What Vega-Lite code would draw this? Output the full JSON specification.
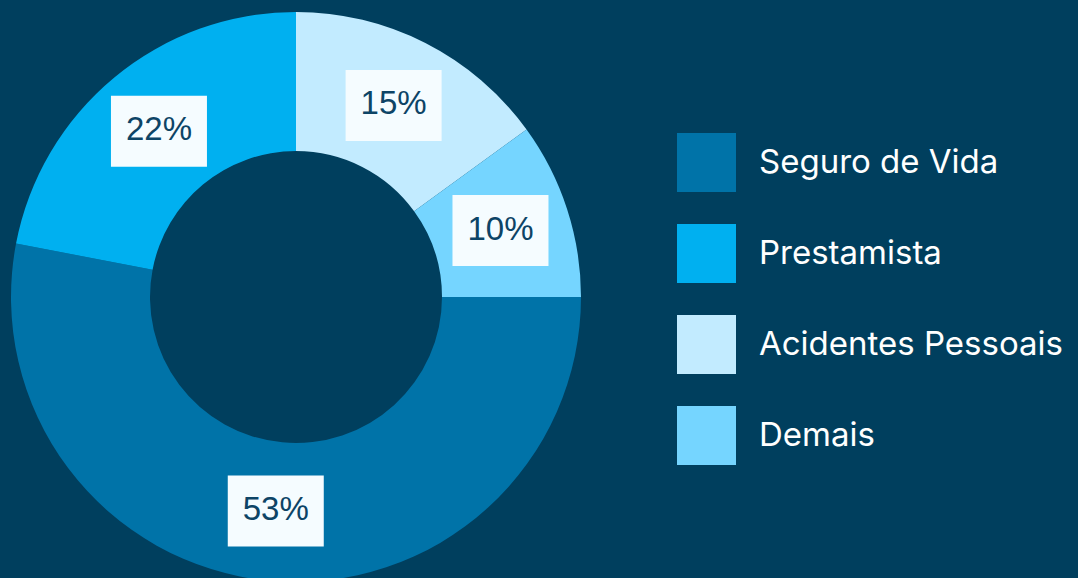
{
  "$schema": "https://vega.github.io/schema/vega-lite/v6.json",
  "width": 592,
  "height": 594,
  "autosize": {"type": "none"},
  "padding": {"left": 0, "top": 0, "right": 486, "bottom": 0},
  "background": "#003F5E",
  "config": {"view": {"stroke": null}},
  "data": {
    "values": [
      {"categoria": "Seguro de Vida", "pct": 53, "ordem": 1},
      {"categoria": "Prestamista", "pct": 22, "ordem": 2},
      {"categoria": "Acidentes Pessoais", "pct": 15, "ordem": 3},
      {"categoria": "Demais", "pct": 10, "ordem": 4}
    ]
  },
  "layer": [
    {
      "mark": {"type": "arc", "outerRadius": 285, "innerRadius": 146, "strokeWidth": 0},
      "encoding": {
        "theta": {"field": "pct", "type": "quantitative", "stack": true, "scale": {"range": [1.5707963, 7.8539816]}},
        "order": {"field": "ordem", "type": "quantitative"},
        "color": {
          "field": "categoria",
          "type": "nominal",
          "sort": ["Seguro de Vida", "Prestamista", "Acidentes Pessoais", "Demais"],
          "scale": {
            "domain": ["Seguro de Vida", "Prestamista", "Acidentes Pessoais", "Demais"],
            "range": ["#0073A8", "#00B0F0", "#C2EBFF", "#75D5FF"]
          },
          "legend": {
            "title": null,
            "orient": "none",
            "legendX": 677,
            "legendY": 133,
            "padding": 0,
            "symbolType": "square",
            "symbolSize": 3481,
            "symbolStrokeWidth": 0,
            "symbolOpacity": 1,
            "rowPadding": 32,
            "labelOffset": 23,
            "labelFont": "Inter",
            "labelFontSize": 33,
            "labelColor": "#FFFFFF",
            "labelLimit": 500
          }
        }
      }
    },
    {
      "transform": [
        {"window": [{"op": "sum", "field": "pct", "as": "cum"}], "sort": [{"field": "ordem"}], "frame": [null, 0]},
        {"calculate": "PI/2 + 2*PI*(datum.cum - datum.pct/2)/100", "as": "mid"},
        {"calculate": "215*sin(datum.mid)", "as": "lx"},
        {"calculate": "215*cos(datum.mid)", "as": "ly"},
        {"calculate": "datum.pct + '%'", "as": "rotulo"}
      ],
      "layer": [
        {
          "mark": {"type": "point", "shape": "M-1,-0.74H1V0.74H-1Z", "filled": true, "size": 9216, "fill": "#F5FCFF", "opacity": 1, "strokeWidth": 0},
          "encoding": {
            "x": {"field": "lx", "type": "quantitative", "scale": {"domain": [-296, 296], "nice": false, "zero": false}, "axis": null},
            "y": {"field": "ly", "type": "quantitative", "scale": {"domain": [-297, 297], "nice": false, "zero": false}, "axis": null}
          }
        },
        {
          "mark": {"type": "text", "font": "Liberation Sans", "fontSize": 33, "color": "#0D4466", "baseline": "middle", "align": "center", "dy": -1},
          "encoding": {
            "x": {"field": "lx", "type": "quantitative", "scale": {"domain": [-296, 296], "nice": false, "zero": false}, "axis": null},
            "y": {"field": "ly", "type": "quantitative", "scale": {"domain": [-297, 297], "nice": false, "zero": false}, "axis": null},
            "text": {"field": "rotulo", "type": "nominal"}
          }
        }
      ]
    }
  ]
}
